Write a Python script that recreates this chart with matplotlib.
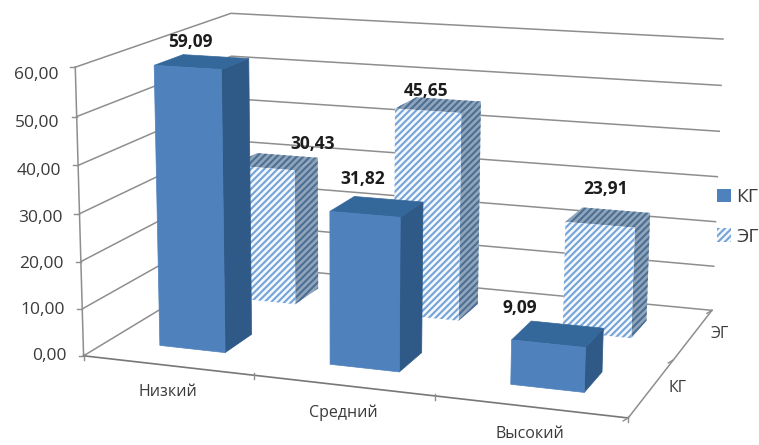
import numpy as np
import matplotlib.pyplot as plt
from matplotlib.patches import Patch, Polygon

plt.rcParams['font.family'] = ['Open Sans', 'DejaVu Sans']
plt.rcParams['hatch.linewidth'] = 1.5

categories = ['Низкий', 'Средний', 'Высокий']
groups = ['КГ', 'ЭГ']
kg_values = [59.09, 31.82, 9.09]
eg_values = [30.43, 45.65, 23.91]
y_ticks = [0, 10, 20, 30, 40, 50, 60]

# label shifts in pixels from the middle of the bar top, they are not regular in the original
kg_label_shift = [(-11, -20), (-14, -28), (-38, -26)]
eg_label_shift = [(37, -18), (-12, -14), (-3, -28)]

# frame of the 3d box: (category, depth, value) -> pixel in the picture
frame_world = np.array([
    (0, 0, 0), (3, 0, 0), (3, 2, 0), (0, 2, 0), (0, 0, 60), (0, 2, 60), (3, 2, 60),
    (1, 0, 0), (2, 0, 0), (3, 1, 0), (0, 0, 30), (3, 2, 30), (0, 2, 50)], dtype=float)
frame_pixel = np.array([
    (86, 353), (628, 422), (712, 306), (232, 270), (73, 68), (232, 12), (723, 42),
    (253, 375), (434, 397), (675, 358), (81, 212), (717, 176), (232, 55)], dtype=float)

BAR_W = 0.39
BAR_D = 0.36
BAR_ROW_MID = 0.49


def fit_camera(world, pixel):
    # plain DLT, value axis scaled so the numbers are of similar size
    rows = []
    for (x, y, z), (u, v) in zip(world, pixel):
        z = z / 20
        rows.append([x, y, z, 1, 0, 0, 0, 0, -u * x, -u * y, -u * z, -u])
        rows.append([0, 0, 0, 0, x, y, z, 1, -v * x, -v * y, -v * z, -v])
    _, _, vt = np.linalg.svd(np.array(rows))
    return vt[-1].reshape(3, 4)


camera = fit_camera(frame_world, frame_pixel)


def project(x, y, z):
    u, v, w = camera @ np.array([x, y, z / 20, 1.0])
    return u / w, v / w


def draw_bar(ax, cat, row, value, front, side, top, hatch_colors=None):
    x0, x1 = cat + 0.5 - BAR_W / 2, cat + 0.5 + BAR_W / 2
    y0, y1 = row + BAR_ROW_MID - BAR_D / 2, row + BAR_ROW_MID + BAR_D / 2
    faces = [
        ([(x1, y0, 0), (x1, y1, 0), (x1, y1, value), (x1, y0, value)], side, 1),
        ([(x0, y0, value), (x1, y0, value), (x1, y1, value), (x0, y1, value)], top, 2),
        ([(x0, y0, 0), (x1, y0, 0), (x1, y0, value), (x0, y0, value)], front, 0),
    ]
    for corners, color, i in faces:
        pts = [project(*c) for c in corners]
        if hatch_colors is None:
            ax.add_patch(Polygon(pts, closed=True, facecolor=color, edgecolor=color, linewidth=0.5))
        else:
            ax.add_patch(Polygon(pts, closed=True, facecolor=color, edgecolor=hatch_colors[i],
                                 hatch='/////', linewidth=0))


fig = plt.figure(figsize=(7.59, 4.45), dpi=100)
ax = fig.add_axes([0, 0, 1, 1])
ax.set_xlim(0, 759)
ax.set_ylim(445, 0)
ax.axis('off')

grid_color = '#8e8e8e'
text_color = '#3a3a3a'

# walls
for t in y_ticks:
    pts = [project(0, 0, t), project(0, 2, t), project(3, 2, t)]
    ax.plot(*zip(*pts), color=grid_color, lw=1.1, zorder=1)
    tx, ty = project(0, 0, t)
    ax.plot([tx - 5, tx], [ty, ty], color=grid_color, lw=1.0, zorder=1)
    ax.annotate(f'{t:.2f}'.replace('.', ','), (tx, ty), xytext=(-17, -t * 8 / 60), textcoords='offset pixels',
                ha='right', va='center', fontsize=12.5, color=text_color)

# axis edges
ax.plot(*zip(project(0, 0, 0), project(0, 0, 60)), color=grid_color, lw=1.1, zorder=1)
ax.plot(*zip(project(0, 0, 0), project(3, 0, 0)), color='#777777', lw=1.2, zorder=1)
ax.plot(*zip(project(3, 0, 0), project(3, 2, 0)), color=grid_color, lw=1.1, zorder=1)

for i in range(4):
    tx, ty = project(i, 0, 0)
    ax.plot([tx, tx], [ty - 2, ty + 4], color=grid_color, lw=1.0, zorder=1)
for j in range(3):
    tx, ty = project(3, j, 0)
    ax.plot([tx, tx - 5], [ty, ty + 3], color=grid_color, lw=1.0, zorder=1)

for i, name in enumerate(categories):
    tx, ty = project(i + 0.5, 0, 0)
    ax.annotate(name, (tx, ty), xytext=(0, -27), textcoords='offset pixels',
                ha='center', va='center', fontsize=11.5, color=text_color)
for j, name in enumerate(groups):
    tx, ty = project(3, j + 0.5, 0)
    ax.annotate(name, (tx, ty), xytext=(26, 0), textcoords='offset pixels',
                ha='center', va='center', fontsize=11.5, color=text_color)

# back row first, then front row
for i, value in enumerate(eg_values):
    draw_bar(ax, i, 1, value, '#f4f8fc', '#8fa5bb', '#8fa5bb', ('#74a3d8', '#4d6e92', '#4d6e92'))
for i, value in enumerate(kg_values):
    draw_bar(ax, i, 0, value, '#4f81bd', '#2f5a87', '#35689a')

for row, values, shifts in [(1, eg_values, eg_label_shift), (0, kg_values, kg_label_shift)]:
    for i, value in enumerate(values):
        tx, ty = project(i + 0.5, row + BAR_ROW_MID, value)
        dx, dy = shifts[i]
        ax.annotate(f'{value:.2f}'.replace('.', ','), (tx, ty), xytext=(dx, -dy), textcoords='offset pixels',
                    ha='center', va='center', fontsize=12.5, fontweight='bold', color='#1c1c1c', zorder=5)

handles = [Patch(facecolor='#4f81bd', edgecolor='#4f81bd', linewidth=0),
           Patch(facecolor='#f4f8fc', edgecolor='#74a3d8', hatch='/////', linewidth=0)]
ax.legend(handles, groups, loc='center left', bbox_to_anchor=(717, 217), bbox_transform=ax.transData,
          frameon=False, fontsize=14, handlelength=0.7, handleheight=0.7, handletextpad=0.3,
          labelspacing=1.1, borderpad=0, borderaxespad=0, labelcolor=text_color)

fig.savefig('out.png', dpi=100)
